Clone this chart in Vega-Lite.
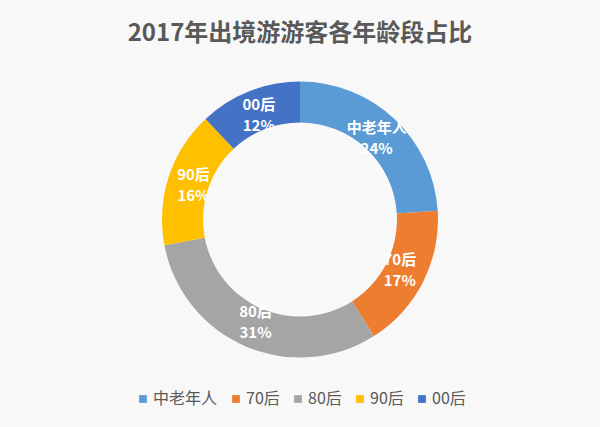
{
  "$schema": "https://vega.github.io/schema/vega-lite/v6.json",
  "width": 600,
  "height": 427,
  "autosize": {"type": "fit", "contains": "padding"},
  "padding": {"top": 22, "bottom": 20, "left": 5, "right": 5},
  "background": "#f8f8f8",
  "title": {
    "text": "2017年出境游游客各年龄段占比",
    "font": "Noto Sans CJK SC",
    "fontSize": 24,
    "fontWeight": "bold",
    "color": "#595959",
    "anchor": "middle",
    "offset": 10
  },
  "data": {
    "values": [
      {"name": "中老年人", "value": 0.24, "order": 1},
      {"name": "70后", "value": 0.17, "order": 2},
      {"name": "80后", "value": 0.31, "order": 3},
      {"name": "90后", "value": 0.16, "order": 4},
      {"name": "00后", "value": 0.12, "order": 5}
    ]
  },
  "encoding": {
    "theta": {"field": "value", "type": "quantitative", "stack": true},
    "order": {"field": "order", "type": "quantitative"},
    "color": {
      "field": "name",
      "type": "nominal",
      "scale": {
        "domain": ["中老年人", "70后", "80后", "90后", "00后"],
        "range": ["#5B9BD5", "#ED7D31", "#A5A5A5", "#FFC000", "#4472C4"]
      },
      "legend": {
        "title": null,
        "orient": "bottom",
        "direction": "horizontal",
        "symbolType": "square",
        "symbolSize": 60,
        "labelFont": "Noto Sans CJK SC",
        "labelFontSize": 16,
        "labelColor": "#595959",
        "labelOffset": 2,
        "columnPadding": 10,
        "offset": 8
      }
    }
  },
  "layer": [
    {"mark": {"type": "arc", "radius": 138, "radius2": 97}},
    {
      "mark": {"type": "text", "radius": 112, "dy": -10, "font": "Noto Sans CJK SC", "fontSize": 15, "fontWeight": "bold", "fill": "white"},
      "encoding": {"text": {"field": "name"}, "color": {"value": "white"}}
    },
    {
      "mark": {"type": "text", "radius": 112, "dy": 11, "font": "Noto Sans CJK SC", "fontSize": 15, "fontWeight": "bold", "fill": "white"},
      "encoding": {"text": {"field": "value", "format": ".0%"}, "color": {"value": "white"}}
    }
  ],
  "config": {
    "view": {"stroke": null},
    "legend": {"layout": {"bottom": {"anchor": "middle"}}}
  }
}
